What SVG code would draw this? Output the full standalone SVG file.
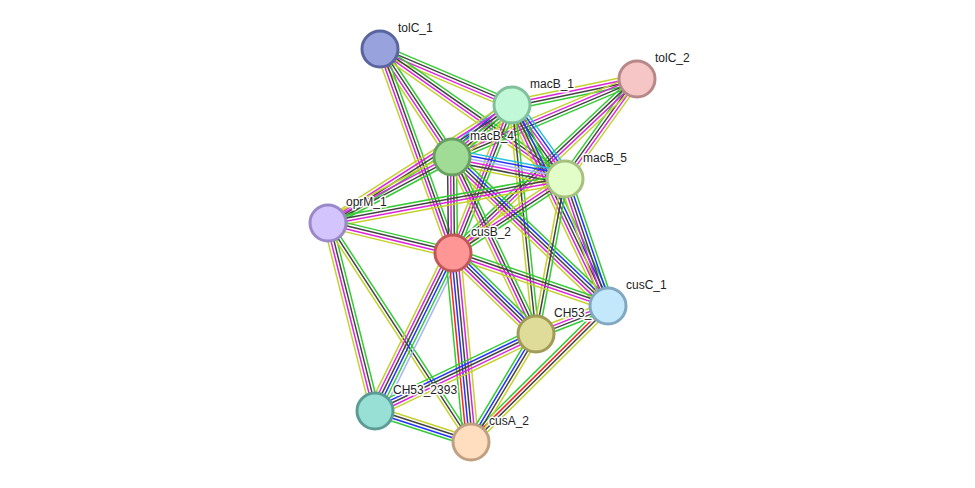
<svg xmlns="http://www.w3.org/2000/svg" width="975" height="488" viewBox="0 0 975 488">
<style>
  line{stroke-width:1.5;fill:none}
  .g{stroke:#33cc33}.k{stroke:#444444}.m{stroke:#dd22dd}.y{stroke:#c4d12c}
  .b{stroke:#2233ff}.c{stroke:#22c0e0}.r{stroke:#ff2222}.h{stroke:#aab2ff}
  circle{stroke-width:3}
  text{font-family:"Liberation Sans",Arial,sans-serif;font-size:12px;fill:#222;stroke:#fff;stroke-width:3;stroke-linejoin:round;paint-order:stroke}
</style>
<rect width="975" height="488" fill="#fff"/>
<!-- each edge: parallel evidence lines, drawn along local x axis from node to node -->
<g id="edges">
  <g transform="translate(380,49) rotate(22.99)"><line class="g" x2="143.4" y1="-4.5" y2="-4.5"/><line class="k" x2="143.4" y1="-1.5" y2="-1.5"/><line class="m" x2="143.4" y1="1.5" y2="1.5"/><line class="y" x2="143.4" y1="4.5" y2="4.5"/></g>
  <g transform="translate(380,49) rotate(56.31)"><line class="g" x2="129.8" y1="-4.5" y2="-4.5"/><line class="k" x2="129.8" y1="-1.5" y2="-1.5"/><line class="m" x2="129.8" y1="1.5" y2="1.5"/><line class="y" x2="129.8" y1="4.5" y2="4.5"/></g>
  <g transform="translate(380,49) rotate(35.10)"><line class="g" x2="226.1" y1="-4.5" y2="-4.5"/><line class="k" x2="226.1" y1="-1.5" y2="-1.5"/><line class="m" x2="226.1" y1="1.5" y2="1.5"/><line class="y" x2="226.1" y1="4.5" y2="4.5"/></g>
  <g transform="translate(380,49) rotate(70.31)"><line class="g" x2="216.7" y1="-4.5" y2="-4.5"/><line class="k" x2="216.7" y1="-1.5" y2="-1.5"/><line class="m" x2="216.7" y1="1.5" y2="1.5"/><line class="y" x2="216.7" y1="4.5" y2="4.5"/></g>
  <g transform="translate(637,79) rotate(168.25)"><line class="g" x2="127.7" y1="-4.5" y2="-4.5"/><line class="k" x2="127.7" y1="-1.5" y2="-1.5"/><line class="m" x2="127.7" y1="1.5" y2="1.5"/><line class="y" x2="127.7" y1="4.5" y2="4.5"/></g>
  <g transform="translate(637,79) rotate(157.14)"><line class="g" x2="200.8" y1="-4.5" y2="-4.5"/><line class="k" x2="200.8" y1="-1.5" y2="-1.5"/><line class="m" x2="200.8" y1="1.5" y2="1.5"/><line class="y" x2="200.8" y1="4.5" y2="4.5"/></g>
  <g transform="translate(637,79) rotate(125.75)"><line class="y" x2="123.2" y1="-4.5" y2="-4.5"/><line class="m" x2="123.2" y1="-1.5" y2="-1.5"/><line class="k" x2="123.2" y1="1.5" y2="1.5"/><line class="g" x2="123.2" y1="4.5" y2="4.5"/></g>
  <g transform="translate(637,79) rotate(136.60)"><line class="y" x2="253.2" y1="-4.5" y2="-4.5"/><line class="m" x2="253.2" y1="-1.5" y2="-1.5"/><line class="k" x2="253.2" y1="1.5" y2="1.5"/><line class="g" x2="253.2" y1="4.5" y2="4.5"/></g>
  <g transform="translate(512,105) rotate(139.09)"><line class="y" x2="79.4" y1="-7.5" y2="-7.5"/><line class="g" x2="79.4" y1="-4.5" y2="-4.5"/><line class="k" x2="79.4" y1="-1.5" y2="-1.5"/><line class="m" x2="79.4" y1="1.5" y2="1.5"/><line class="b" x2="79.4" y1="4.5" y2="4.5"/><line class="c" x2="79.4" y1="7.5" y2="7.5"/></g>
  <g transform="translate(512,105) rotate(54.39)"><line class="c" x2="91" y1="-7.5" y2="-7.5"/><line class="b" x2="91" y1="-4.5" y2="-4.5"/><line class="m" x2="91" y1="-1.5" y2="-1.5"/><line class="k" x2="91" y1="1.5" y2="1.5"/><line class="g" x2="91" y1="4.5" y2="4.5"/><line class="y" x2="91" y1="7.5" y2="7.5"/></g>
  <g transform="translate(512,105) rotate(111.73)"><line class="g" x2="159.3" y1="-4.5" y2="-4.5"/><line class="k" x2="159.3" y1="-1.5" y2="-1.5"/><line class="m" x2="159.3" y1="1.5" y2="1.5"/><line class="y" x2="159.3" y1="4.5" y2="4.5"/></g>
  <g transform="translate(512,105) rotate(147.33)"><line class="g" x2="218.6" y1="-4.5" y2="-4.5"/><line class="k" x2="218.6" y1="-1.5" y2="-1.5"/><line class="m" x2="218.6" y1="1.5" y2="1.5"/><line class="y" x2="218.6" y1="4.5" y2="4.5"/></g>
  <g transform="translate(512,105) rotate(64.47)"><line class="g" x2="222.7" y1="-6" y2="-6"/><line class="b" x2="222.7" y1="-3" y2="-3"/><line class="k" x2="222.7"/><line class="m" x2="222.7" y1="3" y2="3"/><line class="y" x2="222.7" y1="6" y2="6"/></g>
  <g transform="translate(512,105) rotate(84.02)"><line class="g" x2="230.3" y1="-3" y2="-3"/><line class="k" x2="230.3"/><line class="y" x2="230.3" y1="3" y2="3"/></g>
  <g transform="translate(452,157) rotate(11.02)"><line class="c" x2="115.1" y1="-7.5" y2="-7.5"/><line class="b" x2="115.1" y1="-4.5" y2="-4.5"/><line class="h" x2="115.1" y1="-1.5" y2="-1.5"/><line class="m" x2="115.1" y1="1.5" y2="1.5"/><line class="k" x2="115.1" y1="4.5" y2="4.5"/><line class="y" x2="115.1" y1="7.5" y2="7.5"/></g>
  <g transform="translate(452,157) rotate(151.98)"><line class="g" x2="140.5" y1="-4.5" y2="-4.5"/><line class="k" x2="140.5" y1="-1.5" y2="-1.5"/><line class="m" x2="140.5" y1="1.5" y2="1.5"/><line class="y" x2="140.5" y1="4.5" y2="4.5"/></g>
  <g transform="translate(452,157) rotate(89.40)"><line class="g" x2="96" y1="-4.5" y2="-4.5"/><line class="k" x2="96" y1="-1.5" y2="-1.5"/><line class="m" x2="96" y1="1.5" y2="1.5"/><line class="k" x2="96" y1="4.5" y2="4.5"/></g>
  <g transform="translate(452,157) rotate(43.69)"><line class="g" x2="215.7" y1="-6" y2="-6"/><line class="b" x2="215.7" y1="-3" y2="-3"/><line class="k" x2="215.7"/><line class="m" x2="215.7" y1="3" y2="3"/><line class="y" x2="215.7" y1="6" y2="6"/></g>
  <g transform="translate(452,157) rotate(64.61)"><line class="g" x2="195.9" y1="-4.5" y2="-4.5"/><line class="k" x2="195.9" y1="-1.5" y2="-1.5"/><line class="m" x2="195.9" y1="1.5" y2="1.5"/><line class="y" x2="195.9" y1="4.5" y2="4.5"/></g>
  <g transform="translate(565,179) rotate(169.48)"><line class="y" x2="241" y1="-4.5" y2="-4.5"/><line class="m" x2="241" y1="-1.5" y2="-1.5"/><line class="k" x2="241" y1="1.5" y2="1.5"/><line class="g" x2="241" y1="4.5" y2="4.5"/></g>
  <g transform="translate(565,179) rotate(146.54)"><line class="g" x2="134.2" y1="-4.5" y2="-4.5"/><line class="k" x2="134.2" y1="-1.5" y2="-1.5"/><line class="m" x2="134.2" y1="1.5" y2="1.5"/><line class="y" x2="134.2" y1="4.5" y2="4.5"/></g>
  <g transform="translate(565,179) rotate(71.30)"><line class="g" x2="134.1" y1="-6" y2="-6"/><line class="b" x2="134.1" y1="-3" y2="-3"/><line class="k" x2="134.1"/><line class="m" x2="134.1" y1="3" y2="3"/><line class="y" x2="134.1" y1="6" y2="6"/></g>
  <g transform="translate(565,179) rotate(100.60)"><line class="g" x2="157.7" y1="-3" y2="-3"/><line class="k" x2="157.7"/><line class="y" x2="157.7" y1="3" y2="3"/></g>
  <g transform="translate(328,223) rotate(13.50)"><line class="g" x2="128.5" y1="-4.5" y2="-4.5"/><line class="k" x2="128.5" y1="-1.5" y2="-1.5"/><line class="m" x2="128.5" y1="1.5" y2="1.5"/><line class="y" x2="128.5" y1="4.5" y2="4.5"/></g>
  <g transform="translate(328,223) rotate(75.96)"><line class="g" x2="193.8" y1="-4.5" y2="-4.5"/><line class="k" x2="193.8" y1="-1.5" y2="-1.5"/><line class="m" x2="193.8" y1="1.5" y2="1.5"/><line class="y" x2="193.8" y1="4.5" y2="4.5"/></g>
  <g transform="translate(328,223) rotate(56.86)"><line class="g" x2="261.6" y1="-3" y2="-3"/><line class="k" x2="261.6"/><line class="y" x2="261.6" y1="3" y2="3"/></g>
  <g transform="translate(453,253) rotate(18.87)"><line class="g" x2="163.8" y1="-4.5" y2="-4.5"/><line class="k" x2="163.8" y1="-1.5" y2="-1.5"/><line class="m" x2="163.8" y1="1.5" y2="1.5"/><line class="y" x2="163.8" y1="4.5" y2="4.5"/></g>
  <g transform="translate(453,253) rotate(44.30)"><line class="g" x2="116" y1="-6" y2="-6"/><line class="b" x2="116" y1="-3" y2="-3"/><line class="k" x2="116"/><line class="m" x2="116" y1="3" y2="3"/><line class="y" x2="116" y1="6" y2="6"/></g>
  <g transform="translate(453,253) rotate(116.28)"><line class="h" x2="176.2" y1="-7.5" y2="-7.5"/><line class="g" x2="176.2" y1="-4.5" y2="-4.5"/><line class="b" x2="176.2" y1="-1.5" y2="-1.5"/><line class="k" x2="176.2" y1="1.5" y2="1.5"/><line class="m" x2="176.2" y1="4.5" y2="4.5"/><line class="y" x2="176.2" y1="7.5" y2="7.5"/></g>
  <g transform="translate(453,253) rotate(84.56)"><line class="y" x2="189.9" y1="-7.5" y2="-7.5"/><line class="m" x2="189.9" y1="-4.5" y2="-4.5"/><line class="k" x2="189.9" y1="-1.5" y2="-1.5"/><line class="b" x2="189.9" y1="1.5" y2="1.5"/><line class="r" x2="189.9" y1="4.5" y2="4.5"/><line class="g" x2="189.9" y1="7.5" y2="7.5"/></g>
  <g transform="translate(608,306) rotate(158.75)"><line class="g" x2="77.3" y1="-4.5" y2="-4.5"/><line class="k" x2="77.3" y1="-1.5" y2="-1.5"/><line class="m" x2="77.3" y1="1.5" y2="1.5"/><line class="y" x2="77.3" y1="4.5" y2="4.5"/></g>
  <g transform="translate(608,306) rotate(135.21)"><line class="y" x2="193" y1="-4.5" y2="-4.5"/><line class="k" x2="193" y1="-1.5" y2="-1.5"/><line class="r" x2="193" y1="1.5" y2="1.5"/><line class="g" x2="193" y1="4.5" y2="4.5"/></g>
  <g transform="translate(536,334) rotate(154.44)"><line class="y" x2="178.5" y1="-6" y2="-6"/><line class="m" x2="178.5" y1="-3" y2="-3"/><line class="k" x2="178.5"/><line class="b" x2="178.5" y1="3" y2="3"/><line class="g" x2="178.5" y1="6" y2="6"/></g>
  <g transform="translate(536,334) rotate(121.04)"><line class="y" x2="126.1" y1="-4.5" y2="-4.5"/><line class="k" x2="126.1" y1="-1.5" y2="-1.5"/><line class="b" x2="126.1" y1="1.5" y2="1.5"/><line class="g" x2="126.1" y1="4.5" y2="4.5"/></g>
  <g transform="translate(375,411) rotate(17.90)"><line class="y" x2="100.9" y1="-4.5" y2="-4.5"/><line class="k" x2="100.9" y1="-1.5" y2="-1.5"/><line class="b" x2="100.9" y1="1.5" y2="1.5"/><line class="g" x2="100.9" y1="4.5" y2="4.5"/></g>
</g>
<!-- nodes -->
<g id="tolC_1"><circle cx="380" cy="49" r="18" fill="#98a3de" stroke="#5a65a0"/><text x="398" y="32">tolC_1</text></g>
<g id="tolC_2"><circle cx="637" cy="79" r="18" fill="#f6c6c6" stroke="#b88888"/><text x="655" y="62">tolC_2</text></g>
<g id="macB_1"><circle cx="512" cy="105" r="18" fill="#c0f8d8" stroke="#80c09a"/><text x="530" y="88">macB_1</text></g>
<g id="macB_4"><circle cx="452" cy="157" r="18" fill="#a0dc96" stroke="#68a060"/><text x="470" y="140">macB_4</text></g>
<g id="macB_5"><circle cx="565" cy="179" r="18" fill="#e3fdc9" stroke="#a6c080"/><text x="583" y="162">macB_5</text></g>
<g id="oprM_1"><circle cx="328" cy="223" r="18" fill="#d3c4fd" stroke="#9a88c8"/><text x="346" y="206">oprM_1</text></g>
<g id="cusB_2"><circle cx="453" cy="253" r="18" fill="#ff9696" stroke="#c05858"/><text x="471" y="236">cusB_2</text></g>
<g id="CH53_2392"><circle cx="536" cy="334" r="18" fill="#dedc98" stroke="#a09c58"/><text x="554" y="317">CH53_</text></g>
<g id="cusC_1"><circle cx="608" cy="306" r="18" fill="#c4e8fb" stroke="#80a8c0"/><text x="626" y="289">cusC_1</text></g>
<g id="CH53_2393"><circle cx="375" cy="411" r="18" fill="#98e0d6" stroke="#5c9c94"/><text x="393" y="394">CH53_2393</text></g>
<g id="cusA_2"><circle cx="471" cy="442" r="18" fill="#ffdec0" stroke="#c0a080"/><text x="489" y="425">cusA_2</text></g>
</svg>
